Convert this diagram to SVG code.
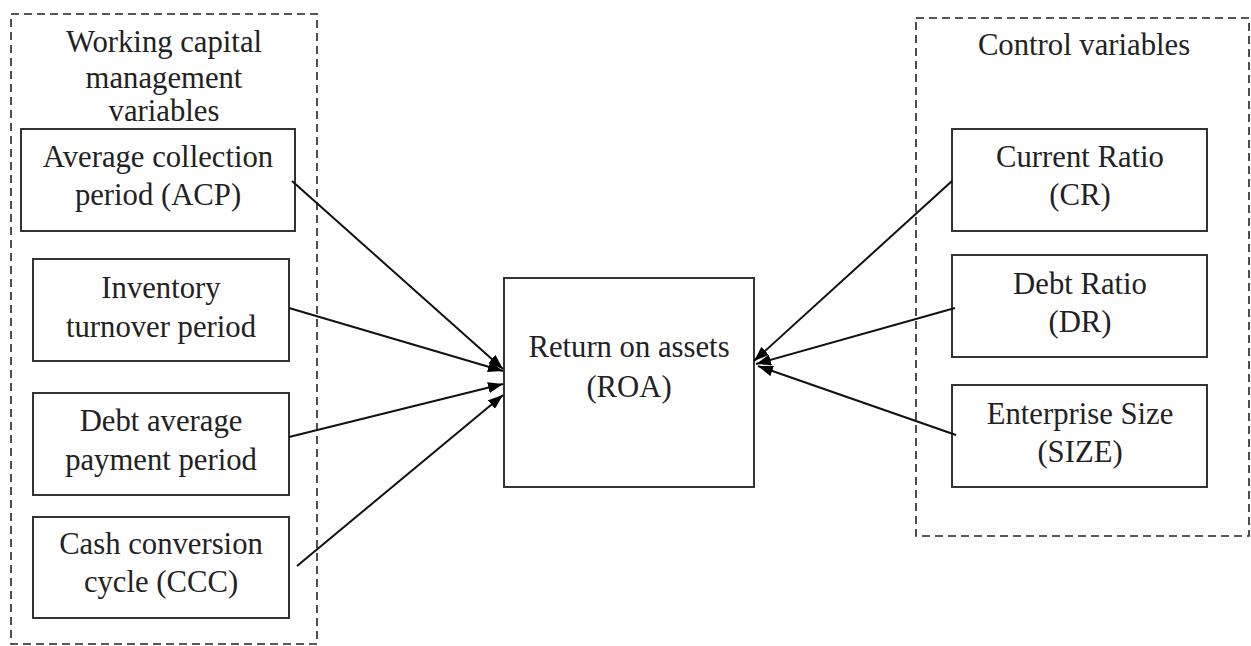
<svg xmlns="http://www.w3.org/2000/svg" width="1251" height="646" viewBox="0 0 1251 646">
<style>
.box{fill:#fff;stroke:#333;stroke-width:2}
.grp{fill:none;stroke:#222;stroke-width:1.6;stroke-dasharray:8 5}
text{font-family:"Liberation Serif","Times New Roman",serif;font-size:30.7px;fill:#222;text-anchor:middle}
.conn line{stroke:#111;stroke-width:2;marker-end:url(#ah)}
</style>
<defs>
<marker id="ah" viewBox="0 0 15 11" refX="15" refY="5.5" markerWidth="15" markerHeight="11" markerUnits="userSpaceOnUse" orient="auto">
<path d="M0,0 L15,5.5 L0,11 z" fill="#000"/>
</marker>
</defs>
<rect fill="#fff" x="0" y="0" width="1251" height="646"/>
<g id="group-wcm">
<rect class="grp" x="11" y="14" width="306" height="630"/>
<text x="164" y="52">Working capital</text>
<text x="164" y="88">management</text>
<text x="164" y="121">variables</text>
</g>
<g id="group-control">
<rect class="grp" x="916" y="18" width="333" height="518"/>
<text x="1084" y="55">Control variables</text>
</g>
<g id="node-acp">
<rect class="box" x="21" y="129" width="274" height="102"/>
<text x="158" y="167">Average collection</text>
<text x="158" y="205">period (ACP)</text>
</g>
<g id="node-itp">
<rect class="box" x="33" y="259" width="256" height="102"/>
<text x="161" y="298">Inventory</text>
<text x="161" y="337">turnover period</text>
</g>
<g id="node-dapp">
<rect class="box" x="33" y="393" width="256" height="102"/>
<text x="161" y="431">Debt average</text>
<text x="161" y="470">payment period</text>
</g>
<g id="node-ccc">
<rect class="box" x="33" y="517" width="256" height="101"/>
<text x="161" y="554">Cash conversion</text>
<text x="161" y="592">cycle (CCC)</text>
</g>
<g id="node-roa">
<rect class="box" x="504" y="278" width="250" height="209"/>
<text x="629" y="357">Return on assets</text>
<text x="629" y="397">(ROA)</text>
</g>
<g id="node-cr">
<rect class="box" x="952" y="129" width="255" height="102"/>
<text x="1080" y="167">Current Ratio</text>
<text x="1080" y="205">(CR)</text>
</g>
<g id="node-dr">
<rect class="box" x="952" y="255" width="255" height="102"/>
<text x="1080" y="294">Debt Ratio</text>
<text x="1080" y="332">(DR)</text>
</g>
<g id="node-size">
<rect class="box" x="952" y="385" width="255" height="102"/>
<text x="1080" y="424">Enterprise Size</text>
<text x="1080" y="462">(SIZE)</text>
</g>
<g class="conn" id="connectors">
<line x1="292" y1="181" x2="503" y2="369"/>
<line x1="289" y1="308" x2="503" y2="371"/>
<line x1="289" y1="437" x2="503" y2="384"/>
<line x1="297" y1="566" x2="503" y2="395"/>
<line x1="952" y1="181" x2="754" y2="361"/>
<line x1="955" y1="308" x2="756" y2="364"/>
<line x1="956" y1="435" x2="758" y2="366"/>
</g>
</svg>
